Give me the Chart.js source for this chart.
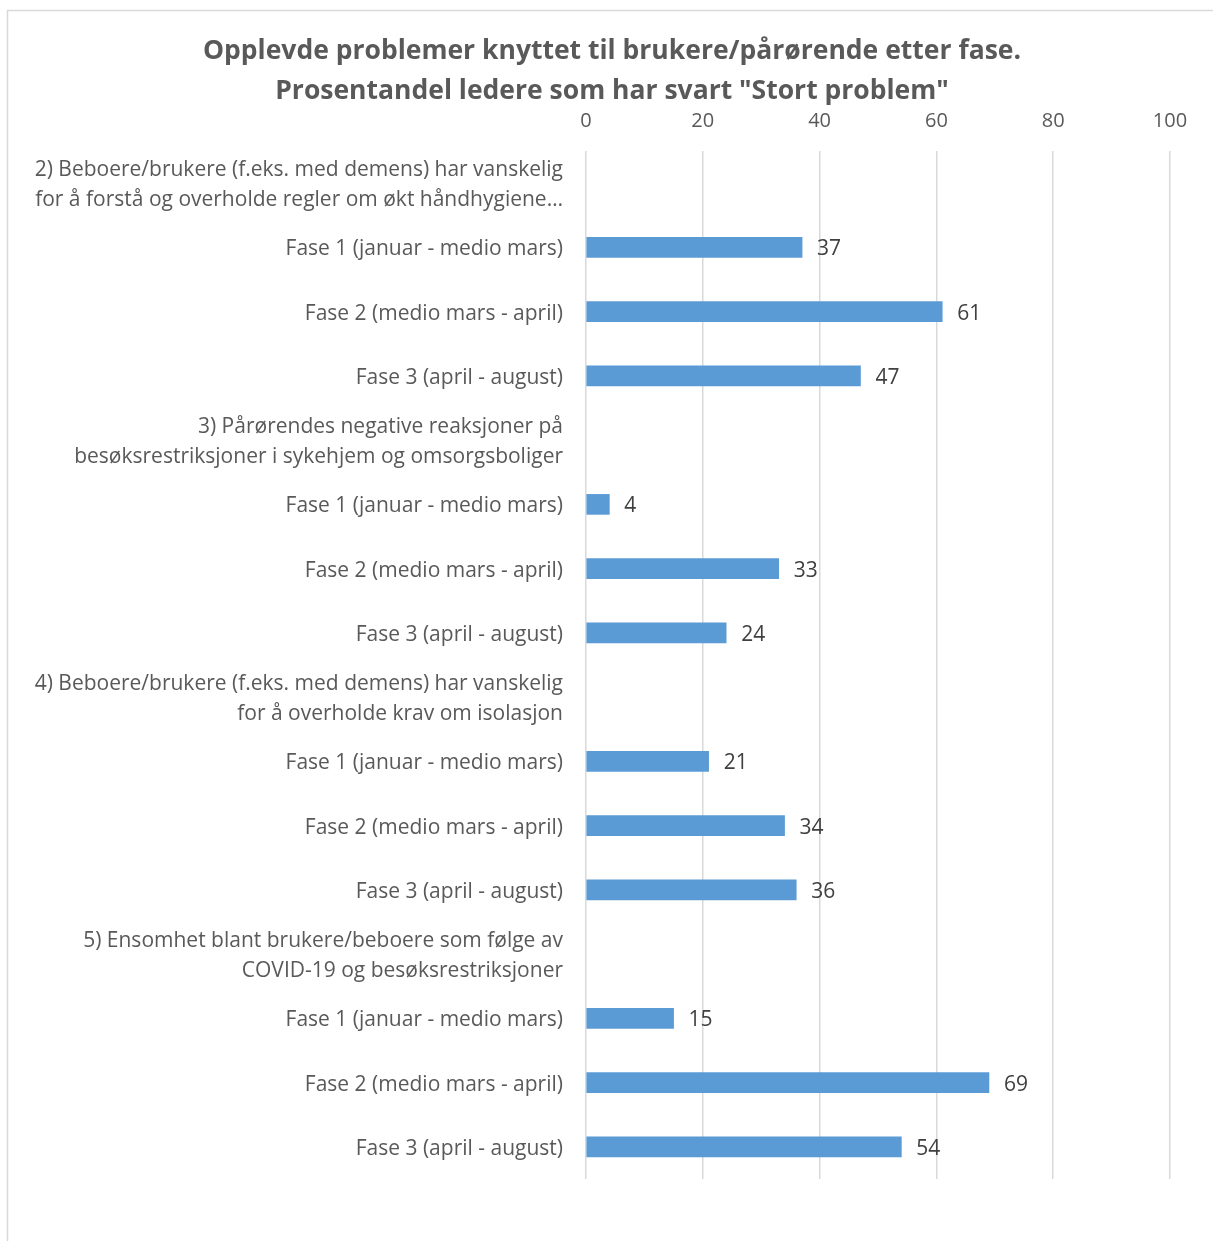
<!DOCTYPE html>
<html>
<head>
<meta charset="utf-8">
<script src="https://cdn.jsdelivr.net/npm/chart.js@4/dist/chart.umd.min.js"></script>
<style>
  html, body { margin: 0; padding: 0; background: #fff; }
  #wrap { position: relative; width: 1213px; height: 1241px; }
</style>
</head>
<body>
<div id="wrap"><canvas id="c" width="1213" height="1241"></canvas></div>
<script>
const titleLines = [
  'Opplevde problemer knyttet til brukere/pårørende etter fase.',
  'Prosentandel ledere som har svart "Stort problem"'
];
const categories = [
  ['2) Beboere/brukere (f.eks. med demens) har vanskelig', 'for å forstå og overholde regler om økt håndhygiene…'],
  'Fase 1 (januar - medio mars)',
  'Fase 2 (medio mars - april)',
  'Fase 3 (april - august)',
  ['3) Pårørendes negative reaksjoner på', 'besøksrestriksjoner i sykehjem og omsorgsboliger'],
  'Fase 1 (januar - medio mars)',
  'Fase 2 (medio mars - april)',
  'Fase 3 (april - august)',
  ['4) Beboere/brukere (f.eks. med demens) har vanskelig', 'for å overholde krav om isolasjon'],
  'Fase 1 (januar - medio mars)',
  'Fase 2 (medio mars - april)',
  'Fase 3 (april - august)',
  ['5) Ensomhet blant brukere/beboere som følge av', 'COVID-19 og besøksrestriksjoner'],
  'Fase 1 (januar - medio mars)',
  'Fase 2 (medio mars - april)',
  'Fase 3 (april - august)'
];
const values = [null, 37, 61, 47, null, 4, 33, 24, null, 21, 34, 36, null, 15, 69, 54];
const xTicks = [0, 20, 40, 60, 80, 100];

const FONT = '"Open Sans", Lato, sans-serif';

const frame = {
  id: 'frame',
  beforeDraw(chart) {
    const ctx = chart.ctx;
    ctx.save();
    ctx.fillStyle = '#ffffff';
    ctx.fillRect(0, 0, chart.width, chart.height);
    ctx.strokeStyle = '#d9d9d9';
    ctx.lineWidth = 1.5;
    ctx.strokeRect(7.5, 10.5, chart.width + 20, chart.height + 20);
    ctx.fillStyle = '#595959';
    ctx.font = 'bold 26.5px ' + FONT;
    ctx.textAlign = 'center';
    ctx.textBaseline = 'middle';
    titleLines.forEach((t, i) => ctx.fillText(t, 612, 51 + i * 40));
    ctx.restore();
  }
};

const dataLabels = {
  id: 'dataLabels',
  afterDatasetsDraw(chart) {
    const ctx = chart.ctx;
    const meta = chart.getDatasetMeta(0);
    ctx.save();
    ctx.font = '21px ' + FONT;
    ctx.fillStyle = '#404040';
    ctx.textAlign = 'left';
    ctx.textBaseline = 'middle';
    meta.data.forEach((bar, i) => {
      const v = chart.data.datasets[0].data[i];
      if (v === null || v === undefined) return;
      ctx.fillText(String(v), bar.x + 15, bar.y + 2);
    });
    ctx.restore();
  }
};

new Chart(document.getElementById('c'), {
  type: 'bar',
  data: {
    labels: categories,
    datasets: [{
      data: values,
      backgroundColor: '#5b9bd5',
      borderWidth: 0,
      barThickness: 20
    }]
  },
  plugins: [frame, dataLabels],
  options: {
    indexAxis: 'y',
    responsive: false,
    animation: false,
    events: [],
    layout: { padding: { top: 111, left: 8, right: 43, bottom: 62 } },
    plugins: {
      legend: { display: false },
      tooltip: { enabled: false },
      title: { display: false }
    },
    scales: {
      x: {
        position: 'top',
        min: 0,
        max: 100,
        afterBuildTicks(scale) { scale.ticks = xTicks.map(v => ({ value: v })); },
        afterFit(scale) { scale.height = 40; },
        grid: { color: '#d9d9d9', lineWidth: 1.5, drawTicks: false },
        border: { display: false },
        ticks: {
          color: '#595959',
          padding: 18,
          font: { family: FONT, size: 20 }
        }
      },
      y: {
        afterFit(scale) { scale.width = 578; },
        grid: { display: false, drawTicks: false },
        border: { display: false },
        ticks: {
          color: '#595959',
          padding: 23,
          labelOffset: 2,
          autoSkip: false,
          font: { family: FONT, size: 21, lineHeight: 1.43 }
        }
      }
    }
  }
});
</script>
</body>
</html>
